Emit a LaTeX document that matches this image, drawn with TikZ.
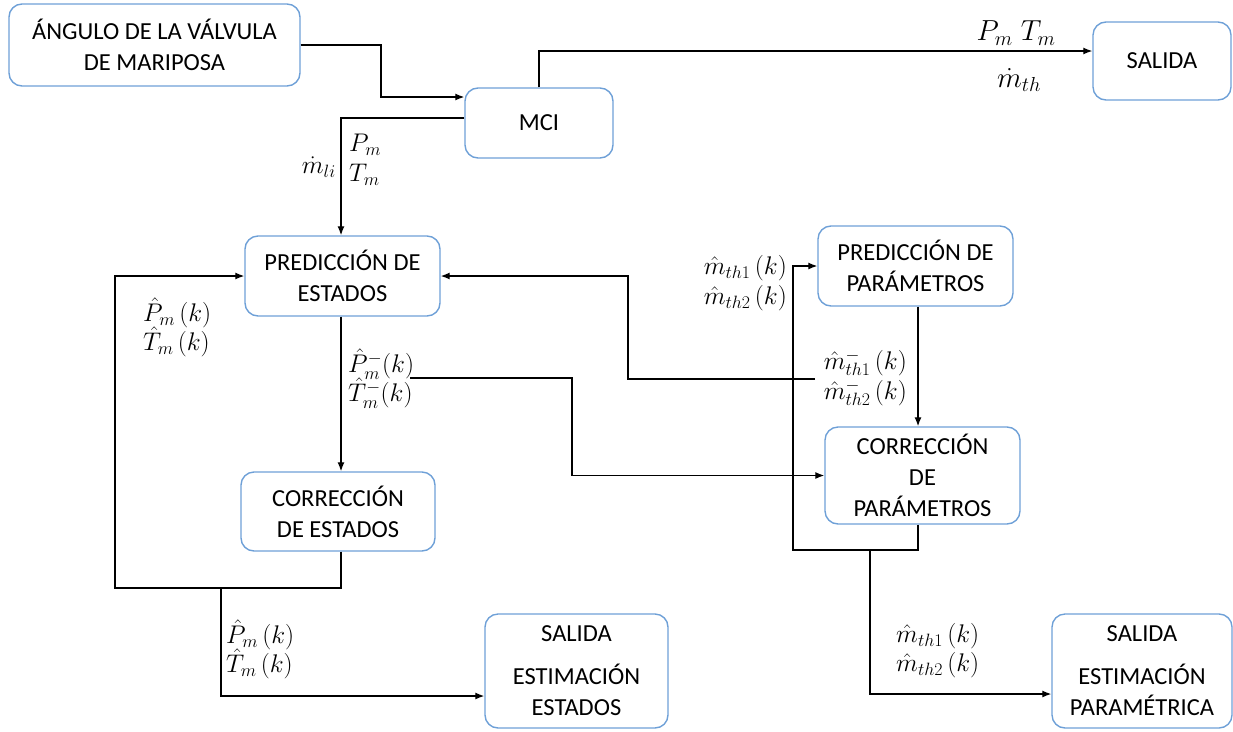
\RequirePackage{fix-cm}
\documentclass[tikz,border=0pt]{standalone}
\usepackage[no-math]{fontspec}
\setmainfont{Carlito}
\usetikzlibrary{arrows.meta}
\definecolor{boxblue}{RGB}{110,160,215}
\tikzset{
  box/.style={draw=boxblue, line width=1.4pt, rounded corners=13pt, align=center,
    inner sep=0pt, font=\fontsize{24.5}{31}\selectfont},
  arr/.style={line width=1.3pt, -{Latex[length=9pt,width=7pt]}},
  lbl/.style={inner sep=0pt, font=\fontsize{25.5}{28}\selectfont},
  biglbl/.style={inner sep=0pt, font=\fontsize{29}{32}\selectfont}
}
\begin{document}
\begin{tikzpicture}[x=1pt,y=-1pt]
\useasboundingbox (0,0) rectangle (1233,731);
% boxes
\node[box, minimum width=291, minimum height=82] (ang) at (154.5,45) {ÁNGULO DE LA VÁLVULA\\DE MARIPOSA};
\node[box, minimum width=148, minimum height=70] (mci) at (539,123) {MCI};
\node[box, minimum width=138, minimum height=78] (sal1) at (1162,61) {SALIDA};
\node[box, minimum width=195, minimum height=80] (pe) at (342.5,276) {PREDICCIÓN DE\\ESTADOS};
\node[box, minimum width=195, minimum height=80] (pp) at (915.5,266) {PREDICCIÓN DE\\PARÁMETROS};
\node[box, minimum width=194, minimum height=79] (ce) at (338,511.5) {CORRECCIÓN\\DE ESTADOS};
\node[box, minimum width=195, minimum height=97] (cp) at (922.5,475.5) {CORRECCIÓN\\DE\\PARÁMETROS};
\node[box, minimum width=183, minimum height=114] (se) at (576.5,671) {SALIDA\\[12pt]ESTIMACIÓN\\ESTADOS};
\node[box, minimum width=180, minimum height=114] (sp) at (1142,671) {SALIDA\\[12pt]ESTIMACIÓN\\PARAMÉTRICA};
% coordinates
\coordinate (c1) at (381,97);
\coordinate (c2) at (539,51);
\coordinate (c3) at (341,118);
\coordinate (xL) at (341,0);
\coordinate (c5) at (410,378);
\coordinate (x572) at (572,0);
\coordinate (c6) at (341,588);
\coordinate (c6b) at (115,588);
\coordinate (c7) at (221,588);
\coordinate (c7b) at (221,696);
\coordinate (xR) at (918,0);
\coordinate (c9) at (815,379);
\coordinate (x628) at (628,0);
\coordinate (c10) at (918,550);
\coordinate (c10b) at (793,550);
\coordinate (c11) at (870,550);
\coordinate (c11b) at (870,694);
% connectors
\draw[arr] (ang.east) -| (c1) -- (c1 -| mci.west);
\draw[arr] (mci.north) -- (c2) -- (c2 -| sal1.west);
\draw[arr] (c3 -| mci.west) -- (c3) -- (c3 |- pe.north);
\draw[arr] (xL |- pe.south) -- (xL |- ce.north);
\draw[arr] (c5) -| (x572 |- cp.west) -- (cp.west);
\draw[arr] (xL |- ce.south) -- (c6) -- (c6b) |- (pe.west);
\draw[arr] (c7) -- (c7b) -- (c7b -| se.west);
\draw[arr] (xR |- pp.south) -- (xR |- cp.north);
\draw[arr] (c9) -| (x628 |- pe.east) -- (pe.east);
\draw[arr] (xR |- cp.south) -- (c10) -- (c10b) |- (pp.west);
\draw[arr] (c11) -- (c11b) -- (c11b -| sp.west);
% labels
\node[biglbl] (lPT) at (1016,33) {$P_m\;T_m$};
\node[biglbl] (lmth) at (1019,80) {$\dot m_{th}$};
\node[lbl, anchor=west] (lPm1) at (349,145) {$P_m$};
\node[lbl, anchor=west] (lTm1) at (349,175) {$T_m$};
\node[lbl, anchor=east] (lmli) at (336,167) {$\dot m_{li}$};
\node[lbl, anchor=west] (lPmm) at (348,364) {$\hat P_m^{-}(k)$};
\node[lbl, anchor=west] (lTmm) at (348,393) {$\hat T_m^{-}(k)$};
\node[lbl, anchor=west] (lPf) at (143,313) {$\hat P_m\left(k\right)$};
\node[lbl, anchor=west] (lTf) at (143,342) {$\hat T_m\left(k\right)$};
\node[lbl, anchor=west] (lPo) at (226,635) {$\hat P_m\left(k\right)$};
\node[lbl, anchor=west] (lTo) at (226,664) {$\hat T_m\left(k\right)$};
\node[lbl, anchor=east] (lm1m) at (907,363) {$\hat m^{-}_{th1}\left(k\right)$};
\node[lbl, anchor=east] (lm2m) at (907,393) {$\hat m^{-}_{th2}\left(k\right)$};
\node[lbl, anchor=east] (lm1f) at (787,268) {$\hat m_{th1}\left(k\right)$};
\node[lbl, anchor=east] (lm2f) at (787,298) {$\hat m_{th2}\left(k\right)$};
\node[lbl, anchor=west] (lm1o) at (896,636) {$\hat m_{th1}\left(k\right)$};
\node[lbl, anchor=west] (lm2o) at (896,665) {$\hat m_{th2}\left(k\right)$};
\end{tikzpicture}
\end{document}
